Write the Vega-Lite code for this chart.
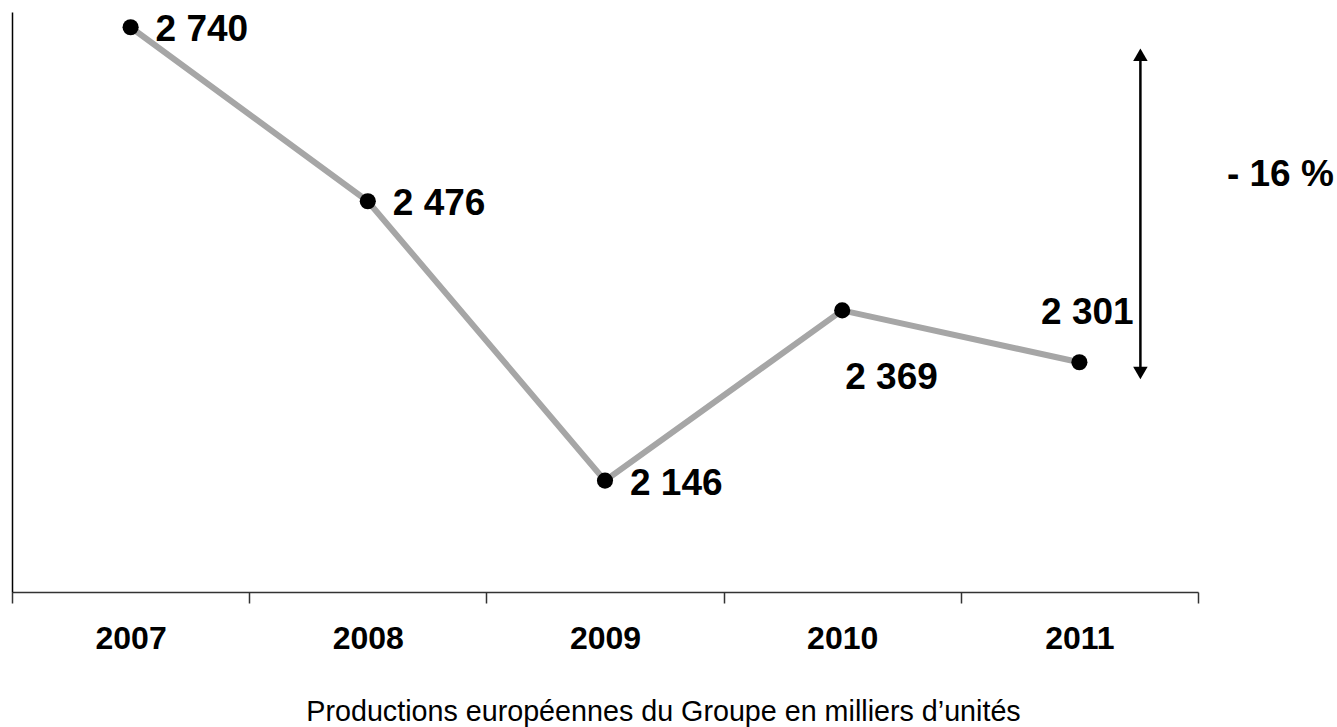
{
  "$schema": "https://vega.github.io/schema/vega-lite/v6.json",
  "width": 1186,
  "height": 580,
  "autosize": {"type": "none"},
  "padding": {"left": 12, "top": 12, "right": 139, "bottom": 135},
  "background": "white",
  "config": {"view": {"stroke": null}, "font": "Liberation Sans"},
  "datasets": {
    "prod": [
      {"annee": "2007", "position": 2740, "label": "2 740"},
      {"annee": "2008", "position": 2512, "label": "2 476"},
      {"annee": "2009", "position": 2146, "label": "2 146"},
      {"annee": "2010", "position": 2369, "label": "2 369"},
      {"annee": "2011", "position": 2301, "label": "2 301"}
    ],
    "fleche": [
      {"annee": "2011", "debut": 2287, "fin": 2704, "variation": "- 16 %"}
    ]
  },
  "layer": [
    {
      "data": {"name": "prod"},
      "mark": {"type": "line", "color": "#a6a6a6", "strokeWidth": 6},
      "encoding": {
        "x": {
          "field": "annee", "type": "ordinal",
          "scale": {"type": "band", "domain": ["2007", "2008", "2009", "2010", "2011"], "paddingInner": 0, "paddingOuter": 0},
          "axis": {
            "orient": "bottom",
            "domainColor": "#333333", "domainWidth": 1.5,
            "tickBand": "extent", "tickSize": 11, "tickColor": "#333333", "tickWidth": 1.5,
            "labelAngle": 0,
            "labelFont": "Liberation Sans", "labelFontWeight": "bold", "labelFontSize": 32, "labelColor": "#000000",
            "labelPadding": 20,
            "title": "Productions européennes du Groupe en milliers d’unités",
            "titleFont": "Liberation Sans", "titleFontWeight": "normal", "titleFontSize": 28.7, "titleColor": "#000000",
            "titleX": 651, "titleAlign": "center",
            "titlePadding": 43
          }
        },
        "y": {
          "field": "position", "type": "quantitative",
          "scale": {"domain": [2000, 2760], "zero": false, "nice": false},
          "axis": {"orient": "left", "labels": false, "ticks": false, "grid": false, "title": null, "domainColor": "#000000", "domainWidth": 1.5}
        }
      }
    },
    {
      "data": {"name": "prod"},
      "mark": {"type": "point", "filled": true, "color": "#000000", "opacity": 1, "size": 260},
      "encoding": {
        "x": {"field": "annee", "type": "ordinal"},
        "y": {"field": "position", "type": "quantitative"}
      }
    },
    {
      "data": {"name": "prod"},
      "transform": [{"filter": {"field": "annee", "oneOf": ["2007", "2008", "2009"]}}],
      "mark": {"type": "text", "align": "left", "baseline": "middle", "dx": 25, "dy": 3, "fontSize": 37, "fontWeight": "bold", "color": "#000000"},
      "encoding": {
        "x": {"field": "annee", "type": "ordinal"},
        "y": {"field": "position", "type": "quantitative"},
        "text": {"field": "label"}
      }
    },
    {
      "data": {"name": "prod"},
      "transform": [{"filter": {"field": "annee", "equal": "2010"}}],
      "mark": {"type": "text", "align": "left", "baseline": "middle", "dx": 3, "dy": 68, "fontSize": 37, "fontWeight": "bold", "color": "#000000"},
      "encoding": {
        "x": {"field": "annee", "type": "ordinal"},
        "y": {"field": "position", "type": "quantitative"},
        "text": {"field": "label"}
      }
    },
    {
      "data": {"name": "prod"},
      "transform": [{"filter": {"field": "annee", "equal": "2011"}}],
      "mark": {"type": "text", "align": "center", "baseline": "middle", "dx": 8, "dy": -49, "fontSize": 37, "fontWeight": "bold", "color": "#000000"},
      "encoding": {
        "x": {"field": "annee", "type": "ordinal"},
        "y": {"field": "position", "type": "quantitative"},
        "text": {"field": "label"}
      }
    },
    {
      "data": {"name": "fleche"},
      "mark": {"type": "rule", "color": "#000000", "strokeWidth": 2.5, "xOffset": 61},
      "encoding": {
        "x": {"field": "annee", "type": "ordinal"},
        "y": {"field": "debut", "type": "quantitative"},
        "y2": {"field": "fin"}
      }
    },
    {
      "data": {"name": "fleche"},
      "mark": {"type": "point", "shape": "triangle-up", "filled": true, "color": "#000000", "opacity": 1, "size": 210, "xOffset": 61},
      "encoding": {
        "x": {"field": "annee", "type": "ordinal"},
        "y": {"field": "fin", "type": "quantitative"}
      }
    },
    {
      "data": {"name": "fleche"},
      "mark": {"type": "point", "shape": "triangle-down", "filled": true, "color": "#000000", "opacity": 1, "size": 210, "xOffset": 61},
      "encoding": {
        "x": {"field": "annee", "type": "ordinal"},
        "y": {"field": "debut", "type": "quantitative"}
      }
    },
    {
      "data": {"name": "fleche"},
      "mark": {"type": "text", "align": "center", "baseline": "middle", "fontSize": 37, "fontWeight": "bold", "color": "#000000", "xOffset": 201},
      "encoding": {
        "x": {"field": "annee", "type": "ordinal"},
        "y": {"field": "fin", "type": "quantitative"},
        "yOffset": {"value": 120},
        "text": {"field": "variation"}
      }
    }
  ]
}
